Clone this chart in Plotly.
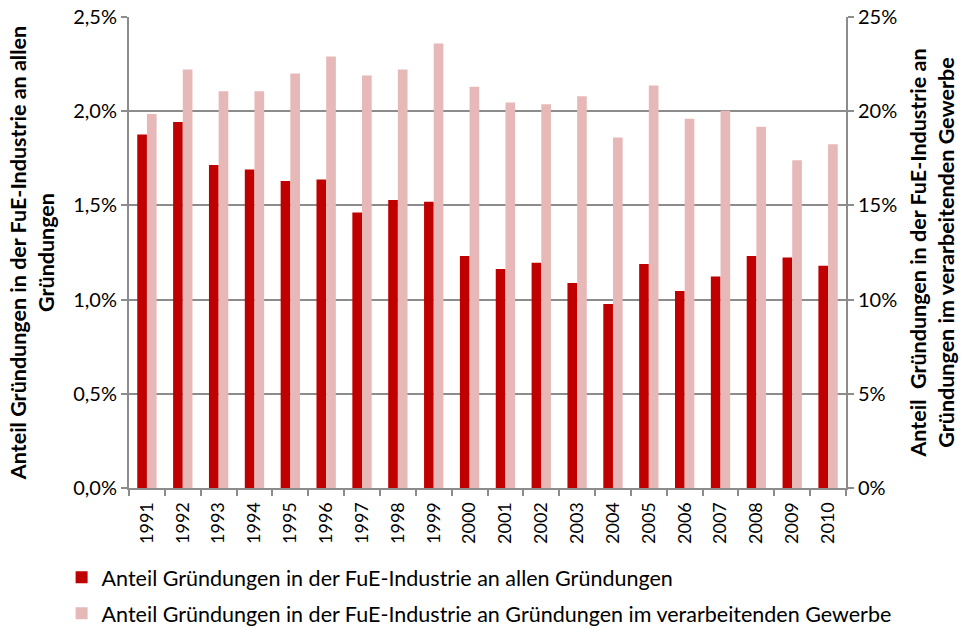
import plotly.graph_objects as go

years = [str(y) for y in range(1991, 2011)]
share_all = [1.876, 1.943, 1.714, 1.690, 1.630, 1.637, 1.462, 1.529, 1.520, 1.231,
             1.162, 1.196, 1.088, 0.977, 1.189, 1.046, 1.122, 1.231, 1.223, 1.180]
share_manuf = [19.85, 22.22, 21.06, 21.06, 22.0, 22.91, 21.89, 22.22, 23.59, 21.3,
               20.46, 20.37, 20.79, 18.6, 21.37, 19.6, 20.03, 19.18, 17.39, 18.24]

name_all = "Anteil Gründungen in der FuE-Industrie an allen Gründungen"
name_manuf = "Anteil Gründungen in der FuE-Industrie an Gründungen im verarbeitenden Gewerbe"

FONT = "Lato, 'Open Sans', sans-serif"
GRID = "#8c8c8c"

fig = go.Figure()
fig.add_trace(go.Bar(x=years, y=[v / 100 for v in share_all], name=name_all,
                     marker=dict(color="#C00000", line=dict(width=0)),
                     width=0.27, offset=-0.27, yaxis="y", legendgroup="a"))
fig.add_trace(go.Bar(x=years, y=[v / 100 for v in share_manuf], name=name_manuf,
                     marker=dict(color="#E6B9B8", line=dict(width=0)),
                     width=0.27, offset=0.0, yaxis="y2", legendgroup="b"))

fig.update_layout(
    width=965, height=627,
    margin=dict(l=129, r=119, t=17, b=139, autoexpand=False),
    paper_bgcolor="white", plot_bgcolor="white",
    separators=",.",
    font=dict(family=FONT, color="black"),
    barmode="overlay",
    showlegend=True,
    legend=dict(orientation="v", x=-0.094, xanchor="left", y=-0.146, yanchor="top",
                font=dict(size=21.5, family=FONT), traceorder="grouped", tracegroupgap=5,
                bgcolor="rgba(0,0,0,0)"),
    xaxis=dict(type="category", tickangle=-90, tickfont=dict(size=18), automargin=False,
               ticklabelstandoff=5,
               showline=True, linecolor=GRID, linewidth=2,
               ticks="outside", tickson="boundaries", ticklen=6, tickcolor=GRID,
               tickwidth=2, showgrid=False),
    yaxis=dict(range=[0, 0.025], dtick=0.005, tickformat=".1%", automargin=False,
               tickfont=dict(size=20), showline=True, linecolor=GRID, linewidth=2,
               ticks="outside", ticklen=6, tickcolor=GRID, tickwidth=2,
               showgrid=True, gridcolor=GRID, gridwidth=2, zeroline=False,
               title=dict(text="<b>Anteil Gründungen in der FuE-Industrie an allen<br>Gründungen</b>",
                          font=dict(size=21.5), standoff=13)),
    yaxis2=dict(range=[0, 0.25], dtick=0.05, tickformat=".0%", overlaying="y", side="right",
                automargin=False,
                tickfont=dict(size=20), showline=True, linecolor=GRID, linewidth=2,
                ticks="outside", ticklen=6, tickcolor=GRID, tickwidth=2,
                showgrid=False, zeroline=False,
                title=dict(text="<b>Anteil  Gründungen in der FuE-Industrie an<br>Gründungen im verarbeitenden Gewerbe</b>",
                           font=dict(size=21.5), standoff=15)),
)

fig.write_html("out.html", config={"displayModeBar": False},
               post_script="document.body.style.margin='0';document.body.style.padding='0';")
